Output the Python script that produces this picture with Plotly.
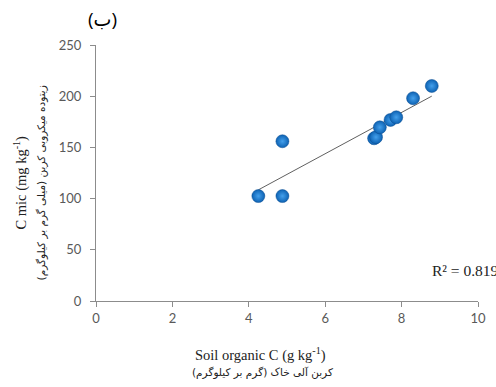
import numpy as np
import plotly.graph_objects as go

soil_c = [4.25, 4.88, 4.88, 7.28, 7.33, 7.43, 7.71, 7.86, 8.30, 8.79]
c_mic = [102.5, 102.5, 156.0, 158.9, 160.0, 169.6, 176.8, 179.4, 198.0, 210.0]
x_ticks = [0, 2, 4, 6, 8, 10]
y_ticks = [0, 50, 100, 150, 200, 250]
r2_text = "R² = 0.8198"

W, H = 496, 387
ML, MR, MT, MB = 96, 10, 45, 86
PW, PH = W - ML - MR, H - MT - MB

def px(x):
    return (x - ML) / PW

def py(y):
    return (H - MB - y) / PH

slope, intercept = np.polyfit(soil_c, c_mic, 1)
xfit = np.array([min(soil_c), max(soil_c)])
yfit = slope * xfit + intercept

fig = go.Figure()
fig.add_trace(go.Scatter(
    x=xfit, y=yfit, mode="lines",
    line=dict(color="#606060", width=1), hoverinfo="skip", showlegend=False))
fig.add_trace(go.Scatter(
    x=soil_c, y=c_mic, mode="markers",
    marker=dict(size=13, color="#0d62b3",
                gradient=dict(type="radial", color="#44a0ec"),
                line=dict(width=0.5, color="#0a4c90")),
    showlegend=False))

serif = "Liberation Serif, Times New Roman, serif"
persian = "DejaVu Sans, sans-serif"

y_title = ("C mic (mg kg<sup>-1</sup>)<br>"
           "<span style='font-family:DejaVu Sans;font-size:10.5px'>"
           "زیتوده میکروبی کربن (میلی گرم بر کیلوگرم)</span>")

annotations = [
    dict(text="(ب)", x=px(86), y=py(19), xanchor="left", yanchor="middle",
         font=dict(family="Open Sans, DejaVu Sans", size=19, color="#000")),
    dict(text=y_title, x=px(28), y=py(183), textangle=-90, align="center",
         xanchor="center", yanchor="middle", font=dict(family=serif, size=14.5, color="#222")),
    dict(text="Soil organic C (g kg<sup>-1</sup>)", x=px(264), y=py(354),
         xanchor="center", yanchor="middle", font=dict(family=serif, size=14.5, color="#222")),
    dict(text="کربن آلی خاک (گرم بر کیلوگرم)", x=px(266), y=py(372),
         xanchor="center", yanchor="middle", font=dict(family=persian, size=10.5, color="#222")),
    dict(text=r2_text, x=px(437), y=py(270), xanchor="left", yanchor="middle",
         font=dict(family=serif, size=15.5, color="#222")),
]
for a in annotations:
    a.update(xref="paper", yref="paper", showarrow=False)

fig.update_layout(
    width=W, height=H, margin=dict(l=ML, r=MR, t=MT, b=MB),
    paper_bgcolor="white", plot_bgcolor="white",
    annotations=annotations,
    xaxis=dict(range=[0, 10], tickvals=x_ticks, showgrid=False, zeroline=False,
               showline=True, linecolor="#8c8c8c", linewidth=1,
               ticks="outside", ticklen=5, tickcolor="#8c8c8c",
               tickfont=dict(family="Lato, Open Sans, sans-serif", size=13, color="#595959")),
    yaxis=dict(range=[0, 250], tickvals=y_ticks, showgrid=False, zeroline=False,
               showline=True, linecolor="#8c8c8c", linewidth=1,
               ticks="outside", ticklen=5, tickcolor="#8c8c8c", ticklabelstandoff=6,
               tickfont=dict(family="Lato, Open Sans, sans-serif", size=13, color="#595959")),
)

fig.write_html("out.html")
